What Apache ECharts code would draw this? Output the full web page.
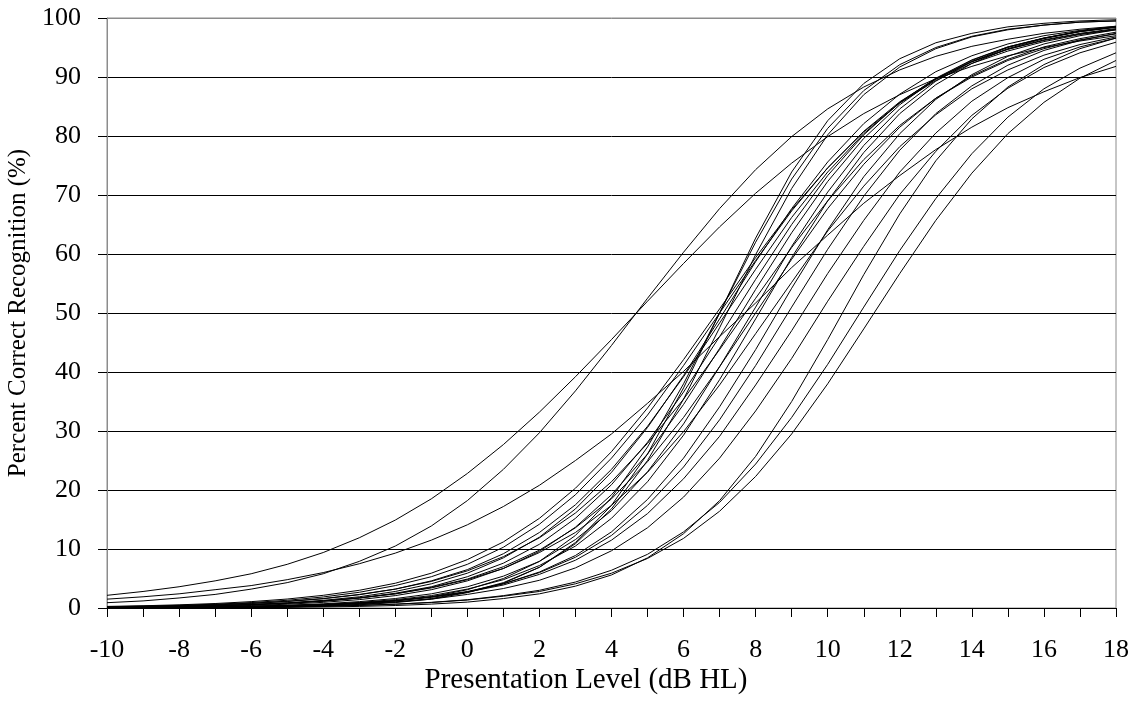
<!DOCTYPE html>
<html>
<head>
<meta charset="utf-8">
<script src="https://cdn.jsdelivr.net/npm/echarts@6/dist/echarts.min.js"></script>
<style>
  html, body { margin: 0; padding: 0; background: #fff; }
  #chart { width: 1143px; height: 705px; }
</style>
</head>
<body>
<div id="chart"></div>
<script>
// presentation level (dB HL), one point per dB
const levels = [-10, -9, -8, -7, -6, -5, -4, -3, -2, -1, 0, 1, 2, 3, 4, 5, 6, 7, 8, 9, 10, 11, 12, 13, 14, 15, 16, 17, 18];

// percent correct
const curveA = [2.15, 2.8, 3.6, 4.6, 5.8, 7.4, 9.4, 11.9, 14.9, 18.5, 22.8, 27.7, 33.2, 39.2, 45.5, 52.0, 58.4, 64.6, 70.3, 75.4, 79.9, 83.8, 87.0, 89.7, 91.8, 93.6, 95.0, 96.1, 97.0];
const curveB = [0.9, 1.2, 1.7, 2.3, 3.2, 4.3, 5.8, 7.9, 10.5, 13.9, 18.2, 23.5, 29.7, 36.8, 44.5, 52.5, 60.3, 67.7, 74.3, 79.9, 84.6, 88.3, 91.2, 93.5, 95.2, 96.4, 97.4, 98.1, 98.6];
const curveC = [1.5, 1.9, 2.4, 3.1, 3.8, 4.8, 6.0, 7.5, 9.3, 11.5, 14.1, 17.2, 20.8, 25.0, 29.5, 34.7, 40.1, 46.0, 51.7, 57.7, 63.2, 68.6, 73.3, 77.7, 81.5, 84.8, 87.5, 89.9, 91.8];
const curve01 = [0.27, 0.38, 0.54, 0.76, 1.08, 1.52, 2.15, 3.0, 4.2, 5.9, 8.2, 11.2, 15.2, 20.3, 26.5, 33.9, 42.1, 50.7, 59.4, 67.5, 74.6, 80.7, 85.6, 89.4, 92.3, 94.4, 96.0, 97.2, 98.0];
const curve02 = [0.22, 0.31, 0.45, 0.64, 0.92, 1.31, 1.87, 2.66, 3.8, 5.3, 7.4, 10.3, 14.2, 19.2, 25.4, 32.7, 41.1, 50.0, 58.9, 67.3, 74.6, 80.8, 85.8, 89.7, 92.6, 94.7, 96.2, 97.3, 98.1];
const curve03 = [0.17, 0.25, 0.36, 0.52, 0.75, 1.09, 1.57, 2.25, 3.2, 4.6, 6.5, 9.2, 12.8, 17.5, 23.5, 30.8, 39.2, 48.3, 57.4, 66.2, 73.9, 80.4, 85.6, 89.6, 92.6, 94.7, 96.3, 97.4, 98.2];
const curve04 = [0.13, 0.19, 0.28, 0.41, 0.60, 0.88, 1.30, 1.90, 2.8, 4.1, 5.9, 8.5, 12.0, 16.8, 23.0, 30.6, 39.4, 49.0, 58.7, 67.7, 75.6, 82.1, 87.1, 90.9, 93.6, 95.6, 97.0, 97.9, 98.6];
const curve05 = [0.11, 0.17, 0.24, 0.36, 0.53, 0.78, 1.15, 1.7, 2.5, 3.6, 5.3, 7.6, 10.8, 15.2, 20.9, 28.1, 36.6, 46.0, 55.7, 65.0, 73.3, 80.2, 85.7, 89.8, 92.9, 95.1, 96.6, 97.7, 98.4];
const curve06 = [0.09, 0.13, 0.19, 0.29, 0.43, 0.64, 0.96, 1.42, 2.1, 3.1, 4.6, 6.7, 9.6, 13.7, 19.2, 26.1, 34.5, 44.0, 54.0, 63.6, 72.3, 79.6, 85.3, 89.7, 92.8, 95.1, 96.6, 97.7, 98.5];
const curve07 = [0.02, 0.04, 0.06, 0.10, 0.17, 0.28, 0.45, 0.74, 1.2, 1.9, 3.1, 5.0, 7.9, 12.3, 18.7, 27.3, 38.0, 50.0, 62.0, 72.7, 81.3, 87.7, 92.1, 95.0, 96.9, 98.1, 98.8, 99.3, 99.5];
const curve08 = [0.06, 0.09, 0.14, 0.21, 0.31, 0.47, 0.71, 1.08, 1.6, 2.4, 3.6, 5.4, 7.9, 11.6, 16.5, 23.1, 31.2, 40.9, 51.0, 61.3, 70.5, 78.4, 84.6, 89.3, 92.6, 95.0, 96.6, 97.8, 98.5];
const curve09 = [0.05, 0.08, 0.12, 0.18, 0.27, 0.41, 0.62, 0.94, 1.42, 2.1, 3.2, 4.8, 7.2, 10.5, 15.2, 21.4, 29.3, 38.7, 49.0, 59.4, 69.0, 77.2, 83.8, 88.7, 92.3, 94.8, 96.5, 97.7, 98.5];
const curve10 = [0.01, 0.02, 0.04, 0.07, 0.12, 0.19, 0.33, 0.55, 0.92, 1.5, 2.6, 4.2, 6.9, 11.1, 17.4, 26.1, 37.3, 50.0, 62.7, 73.9, 82.6, 88.9, 93.1, 95.8, 97.4, 98.5, 99.1, 99.5, 99.7];
const curve11 = [0.15, 0.21, 0.30, 0.42, 0.60, 0.85, 1.21, 1.71, 2.4, 3.4, 4.8, 6.7, 9.4, 12.8, 17.4, 23.0, 29.9, 37.8, 46.5, 55.2, 63.9, 71.5, 78.2, 83.6, 88.0, 91.2, 93.7, 95.5, 96.8];
const curve12 = [0.04, 0.07, 0.10, 0.15, 0.23, 0.35, 0.53, 0.81, 1.21, 1.8, 2.7, 4.1, 6.1, 8.9, 12.9, 18.4, 25.4, 34.1, 43.8, 54.2, 64.1, 73.1, 80.4, 86.2, 90.4, 93.5, 95.6, 97.0, 98.0];
const curve13 = [0.06, 0.09, 0.13, 0.19, 0.28, 0.40, 0.59, 0.87, 1.27, 1.9, 2.7, 3.9, 5.7, 8.1, 11.5, 16.0, 21.9, 29.1, 37.8, 47.0, 56.7, 65.7, 73.9, 80.5, 85.9, 89.9, 93.0, 95.1, 96.6];
const curve14 = [0.05, 0.07, 0.11, 0.15, 0.23, 0.33, 0.49, 0.72, 1.05, 1.5, 2.3, 3.3, 4.7, 6.8, 9.7, 13.6, 18.8, 25.4, 33.4, 42.3, 52.0, 61.3, 70.1, 77.4, 83.5, 88.1, 91.6, 94.1, 95.9];
const curve15 = [0.01, 0.02, 0.03, 0.05, 0.07, 0.11, 0.18, 0.27, 0.42, 0.66, 1.0, 1.6, 2.4, 3.7, 5.6, 8.5, 12.6, 18.2, 25.7, 35.0, 45.5, 56.5, 66.8, 75.8, 82.9, 88.3, 92.1, 94.8, 96.6];
const curve16 = [0.03, 0.04, 0.06, 0.09, 0.14, 0.20, 0.30, 0.44, 0.65, 0.96, 1.4, 2.1, 3.0, 4.4, 6.4, 9.1, 12.9, 17.9, 24.4, 32.3, 41.3, 51.0, 60.6, 69.4, 77.0, 83.2, 88.0, 91.5, 94.1];
const curve17 = [0.03, 0.04, 0.07, 0.10, 0.14, 0.20, 0.30, 0.44, 0.64, 0.93, 1.35, 2.0, 2.8, 4.1, 5.9, 8.4, 11.8, 16.4, 22.3, 29.5, 38.0, 47.3, 56.7, 65.7, 73.7, 80.4, 85.7, 89.8, 92.8];
const curve18 = [0.20, 0.29, 0.41, 0.58, 0.82, 1.15, 1.6, 2.3, 3.2, 4.5, 6.3, 8.7, 11.9, 16.1, 21.4, 27.9, 35.4, 43.8, 52.5, 61.1, 69.0, 76.0, 81.8, 86.4, 90.0, 92.8, 94.8, 96.3, 97.3];
const curve19 = [0.13, 0.19, 0.27, 0.39, 0.56, 0.81, 1.17, 1.7, 2.4, 3.5, 4.9, 7.0, 9.8, 13.6, 18.5, 24.8, 32.3, 40.9, 50.0, 59.1, 67.7, 75.2, 81.5, 86.4, 90.2, 93.0, 95.1, 96.5, 97.6];
const curve20 = [0.02, 0.03, 0.05, 0.08, 0.14, 0.22, 0.37, 0.61, 1.0, 1.6, 2.7, 4.3, 6.9, 10.9, 16.8, 25.0, 35.4, 47.5, 59.9, 71.1, 80.2, 87.0, 91.7, 94.8, 96.8, 98.0, 98.8, 99.3, 99.5];
const curve21 = [0.05, 0.08, 0.12, 0.17, 0.26, 0.38, 0.57, 0.85, 1.26, 1.9, 2.8, 4.1, 6.0, 8.6, 12.3, 17.4, 23.9, 31.9, 41.1, 51.0, 60.8, 69.8, 77.6, 83.8, 88.5, 92.0, 94.5, 96.2, 97.4];

const curves = [curveA, curveB, curveC, curve01, curve02, curve03, curve04, curve05, curve06, curve07,
  curve08, curve09, curve10, curve11, curve12, curve13, curve14, curve15, curve16, curve17,
  curve18, curve19, curve20, curve21];

const yTicks = [0, 10, 20, 30, 40, 50, 60, 70, 80, 90, 100];

const serif = 'Liberation Serif';
const chart = echarts.init(document.getElementById('chart'));

const series = curves.map(vals => ({
  type: 'line',
  data: levels.map((x, i) => [x, vals[i]]),
  symbol: 'none',
  silent: true,
  lineStyle: { color: '#000', width: 1 }
}));

// gridlines black, top one is the grey plot border
const gridColors = yTicks.map((v, i) => i === yTicks.length - 1 ? '#8c8c8c' : '#000');

chart.setOption({
  animation: false,
  grid: {
    left: 107, right: 27, top: 18, bottom: 97,
    outerBoundsMode: 'none',
    show: true, borderColor: '#8c8c8c', borderWidth: 1
  },
  // x title sits a bit left of the plot centre in the original
  graphic: [{
    type: 'text',
    x: 586, y: 666,
    style: {
      text: 'Presentation Level (dB HL)',
      textAlign: 'center',
      textVerticalAlign: 'top',
      font: '29px "Liberation Serif"',
      fill: '#000'
    }
  }],
  xAxis: {
    type: 'value',
    min: -10, max: 18, interval: 1,
    axisLine: { onZero: false, lineStyle: { color: '#000', width: 1 } },
    axisTick: { length: 9, lineStyle: { color: '#000' } },
    axisLabel: {
      margin: 29,
      fontFamily: serif, fontSize: 26, color: '#000',
      formatter: v => (v % 2 === 0 ? String(v) : '')
    },
    splitLine: { show: false }
  },
  yAxis: {
    type: 'value',
    min: 0, max: 100, interval: 10,
    name: 'Percent Correct Recognition (%)',
    nameLocation: 'middle',
    nameGap: 72,
    nameTextStyle: { fontFamily: serif, fontSize: 25, color: '#000' },
    axisLine: { show: true, onZero: false, lineStyle: { color: '#8c8c8c' } },
    axisTick: { show: true, length: 9, lineStyle: { color: '#000' } },
    axisLabel: { margin: 26, fontFamily: serif, fontSize: 26, color: '#000' },
    splitLine: { lineStyle: { color: gridColors, width: 1 } }
  },
  series: series
});
</script>
</body>
</html>
